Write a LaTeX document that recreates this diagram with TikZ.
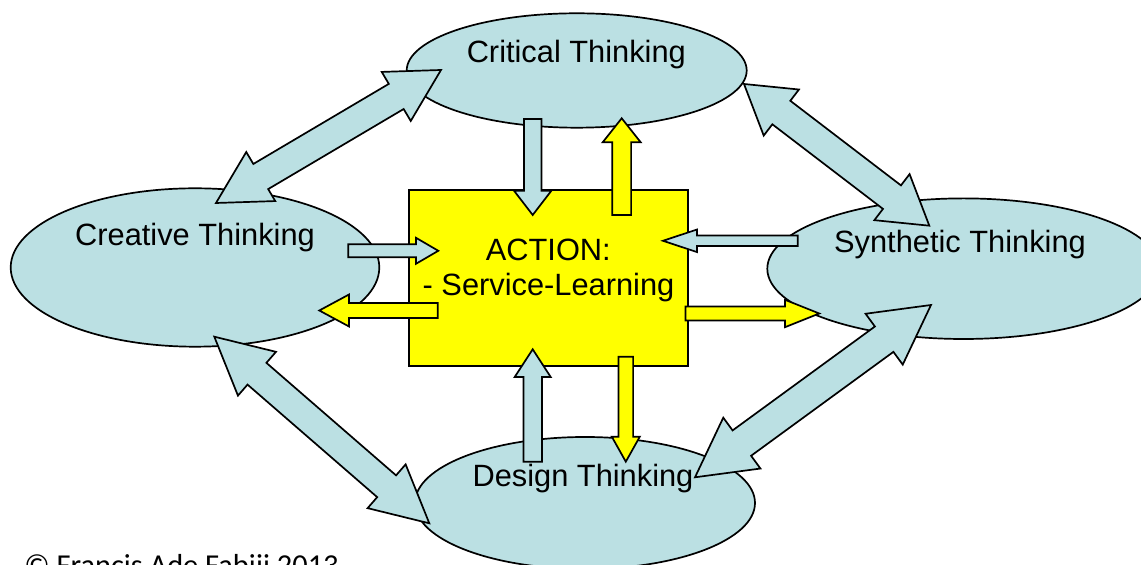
\documentclass[tikz,border=0pt]{standalone}
\usepackage{fontspec}
\setmainfont{Liberation Sans}
\newfontfamily\copyfont{Carlito}
\usetikzlibrary{calc,shapes.geometric}
\definecolor{lblue}{HTML}{BBE0E3}
\definecolor{lyellow}{HTML}{FFFF00}
% double block arrow: #1 end A, #2 end B, #3 head length, #4 head half width, #5 shaft half width, #6 style
\newcommand{\dblarrow}[6]{%
  \draw[#6] (#1)
   -- ($(#1)!#3!(#2)!#4!90:(#2)$) -- ($(#1)!#3!(#2)!#5!90:(#2)$)
   -- ($(#2)!#3!(#1)!#5!-90:(#1)$) -- ($(#2)!#3!(#1)!#4!-90:(#1)$)
   -- (#2)
   -- ($(#2)!#3!(#1)!#4!90:(#1)$) -- ($(#2)!#3!(#1)!#5!90:(#1)$)
   -- ($(#1)!#3!(#2)!#5!-90:(#2)$) -- ($(#1)!#3!(#2)!#4!-90:(#2)$)
   -- cycle;}
% single block arrow: #1 tail, #2 tip, #3 head length, #4 head half width, #5 shaft half width, #6 style
\newcommand{\sglarrow}[6]{%
  \draw[#6] ($(#1)!#5!90:(#2)$)
   -- ($(#2)!#3!(#1)!#5!-90:(#1)$) -- ($(#2)!#3!(#1)!#4!-90:(#1)$)
   -- (#2)
   -- ($(#2)!#3!(#1)!#4!90:(#1)$) -- ($(#2)!#3!(#1)!#5!90:(#1)$)
   -- ($(#1)!#5!-90:(#2)$) -- cycle;}
\tikzset{
  bubble/.style={ellipse, draw=black, fill=lblue, line width=0.85pt, inner sep=0pt},
  actionbox/.style={rectangle, draw=black, fill=lyellow, line width=0.85pt, inner sep=0pt},
  bluearrow/.style={draw=black, fill=lblue, line width=0.85pt, line join=miter},
  yellowarrow/.style={draw=black, fill=lyellow, line width=0.85pt, line join=miter},
  lbl/.style={anchor=base, inner sep=0pt, font=\fontsize{15.4}{18}\selectfont},
}
\begin{document}
\begin{tikzpicture}[x=0.5pt,y=-0.5pt]
\useasboundingbox (0,0) rectangle (1141,565);
% ellipses
\node[bubble, minimum width=170pt, minimum height=57.2pt] (crit) at (576.7,70.5) {};
\node[bubble, minimum width=184.3pt, minimum height=79.2pt] (creat) at (195,267.5) {};
\node[bubble, minimum width=196.2pt, minimum height=70.3pt] (synth) at (963.5,268.7) {};
\node[bubble, minimum width=170pt, minimum height=66pt] (design) at (585,503) {};
% action box
\node[actionbox, minimum width=139.35pt, minimum height=88pt] (action) at (548.65,278) {};
% big double arrow end points
\coordinate (a1a) at (441,70);
\coordinate (a1b) at (216,203);
\coordinate (a2a) at (744,84);
\coordinate (a2b) at (929.3,225.7);
\coordinate (a3a) at (214.3,336.7);
\coordinate (a3b) at (429.3,523.3);
\coordinate (a4a) at (931,305);
\coordinate (a4b) at (695,477.3);
\dblarrow{a1a}{a1b}{26pt}{14.25pt}{7.3pt}{bluearrow}
\dblarrow{a2a}{a2b}{23.5pt}{14.5pt}{7.4pt}{bluearrow}
\dblarrow{a3a}{a3b}{28.25pt}{14.5pt}{7.2pt}{bluearrow}
\dblarrow{a4a}{a4b}{29pt}{15.75pt}{7.85pt}{bluearrow}
% small arrow end points
\coordinate (b1t) at (532.7,119);   \coordinate (b1h) at (532.7,215);
\coordinate (y1t) at (621.7,215);   \coordinate (y1h) at (621.7,118.3);
\coordinate (b2t) at (348.3,250.8); \coordinate (b2h) at (438.3,250.8);
\coordinate (y2t) at (437.7,310.5); \coordinate (y2h) at (319.3,310.5);
\coordinate (b3t) at (797.7,240.8); \coordinate (b3h) at (663,240.8);
\coordinate (y3t) at (685.5,313.5); \coordinate (y3h) at (819.3,313.5);
\coordinate (b4t) at (532.7,461.7); \coordinate (b4h) at (532.7,349.3);
\coordinate (y4t) at (625.8,356.7); \coordinate (y4h) at (625.8,461.7);
\sglarrow{b1t}{b1h}{12.15pt}{9.35pt}{4.4pt}{bluearrow}
\sglarrow{y1t}{y1h}{12pt}{9.5pt}{4.7pt}{yellowarrow}
\sglarrow{b2t}{b2h}{11.15pt}{6.5pt}{3.25pt}{bluearrow}
\sglarrow{y2t}{y2h}{14.85pt}{8pt}{3.75pt}{yellowarrow}
\sglarrow{b3t}{b3h}{17pt}{5.65pt}{2.6pt}{bluearrow}
\sglarrow{y3t}{y3h}{17.15pt}{6.85pt}{3.5pt}{yellowarrow}
\sglarrow{b4t}{b4h}{13.85pt}{9pt}{4.6pt}{bluearrow}
\sglarrow{y4t}{y4h}{12.5pt}{7pt}{3.65pt}{yellowarrow}
% labels
\node[lbl] (critlbl) at (576.3,62.7) {Critical Thinking};
\node[lbl] (creatlbl) at (195,245.7) {Creative Thinking};
\node[lbl] (synthlbl) at (960,252.7) {Synthetic Thinking};
\node[lbl] (designlbl) at (583,487) {Design Thinking};
\node[lbl] (actlbl1) at (548.3,261) {ACTION:};
\node[lbl] (actlbl2) at (548.5,296) {- Service-Learning};
\node[anchor=base west, inner sep=0pt, font=\copyfont\fontsize{15.2}{18}\selectfont] (copy) at (24,576) {© Francis Ade Fabiji 2013};
\end{tikzpicture}
\end{document}
